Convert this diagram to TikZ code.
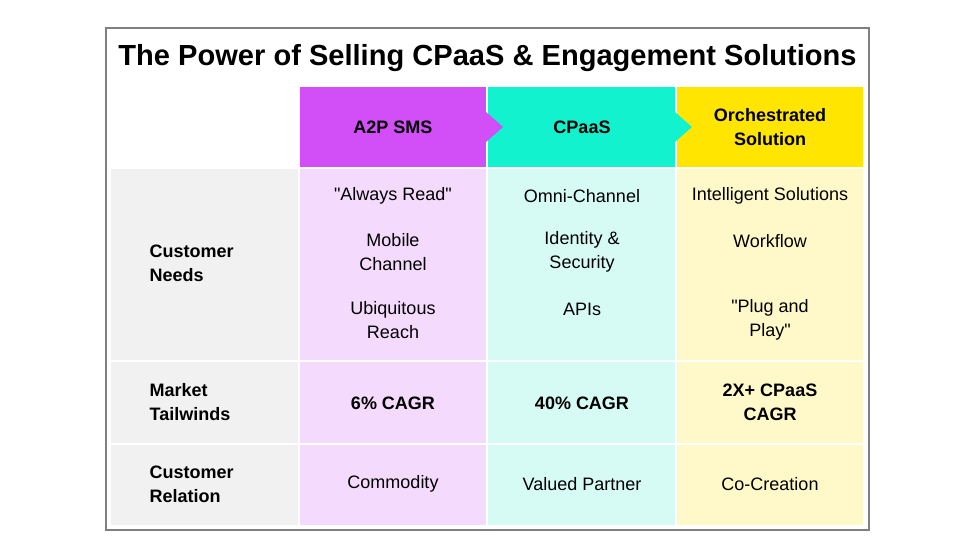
\documentclass[tikz,border=0pt]{standalone}
\usepackage{fontspec}
\setmainfont{Liberation Sans}
\newfontfamily\plainfont{Liberation Sans}
\newcommand{\sq}{{\plainfont"}}
\usepackage{tikz}
\definecolor{hdPurple}{HTML}{D24EF7}
\definecolor{ltPurple}{HTML}{F4DAFC}
\definecolor{hdTeal}{HTML}{12F2CF}
\definecolor{ltTeal}{HTML}{D6FBF4}
\definecolor{hdYellow}{HTML}{FFE500}
\definecolor{ltYellow}{HTML}{FFF9C9}
\definecolor{ltGray}{HTML}{F1F1F1}
\tikzset{
  cell/.style={draw=white,line width=1.5pt,inner sep=0pt},
  txt/.style={align=center,font=\fontsize{13.5}{18}\selectfont},
  bold/.style={txt,font=\fontsize{13.5}{18}\selectfont\bfseries}
}
\begin{document}
\begin{tikzpicture}[x=0.75pt,y=0.75pt,yscale=-1,xscale=1]
\useasboundingbox (0,0) rectangle (977,554);
\fill[white] (0,0) rectangle (977,554);
% frame
\draw[gray,line width=0.8pt] (106,28) rectangle (869,530);
\node (title) at (487.5,58) {\fontsize{21.8}{26}\selectfont\bfseries The Power of Selling CPaaS \& Engagement Solutions};
% cells
\fill[ltGray] (111,169) rectangle (298,525);
\fill[hdPurple] (300,87) rectangle (486,167);
\fill[hdTeal] (488,87) rectangle (675,167);
\fill[hdYellow] (677,87) rectangle (863,167);
\fill[hdPurple] (486,112) -- (503,127) -- (486,142) -- cycle;
\fill[hdTeal] (675,112) -- (692,127) -- (675,142) -- cycle;
\fill[ltPurple] (300,169) rectangle (486,525);
\fill[ltTeal] (488,169) rectangle (675,525);
\fill[ltYellow] (677,169) rectangle (863,525);
\foreach \y in {361,444} \draw[white,line width=2pt] (111,\y) -- (863,\y);
% headers
\node[bold] (h1) at (393,127) {A2P SMS};
\node[bold] (h2) at (582,127) {CPaaS};
\node[bold] (h3) at (770,127) {Orchestrated\\Solution};
% row labels
\node[bold,align=left,anchor=west] (r1) at (145,263) {Customer\\Needs};
\node[bold,align=left,anchor=west] (r2) at (145,402) {Market\\Tailwinds};
\node[bold,align=left,anchor=west] (r3) at (145,484) {Customer\\Relation};
% needs
\node[txt] (a1) at (393,196) {\sq Always Read\sq};
\node[txt] (a2) at (393,252) {Mobile\\Channel};
\node[txt] (a3) at (393,320) {Ubiquitous\\Reach};
\node[txt] (b1) at (582,196) {Omni-Channel};
\node[txt] (b2) at (582,252) {Identity \&\\Security};
\node[txt] (b3) at (582,309) {APIs};
\node[txt] (c1) at (770,196) {Intelligent Solutions};
\node[txt] (c2) at (770,241) {Workflow};
\node[txt] (c3) at (770,320) {\sq Plug and\\Play\sq};
% tailwinds
\node[bold] (a4) at (393,403) {6\% CAGR};
\node[bold] (b4) at (582,403) {40\% CAGR};
\node[bold] (c4) at (770,402) {2X+ CPaaS\\CAGR};
% relation
\node[txt] (a5) at (393,484) {Commodity};
\node[txt] (b5) at (582,484) {Valued Partner};
\node[txt] (c5) at (770,484) {Co-Creation};
\end{tikzpicture}
\end{document}
